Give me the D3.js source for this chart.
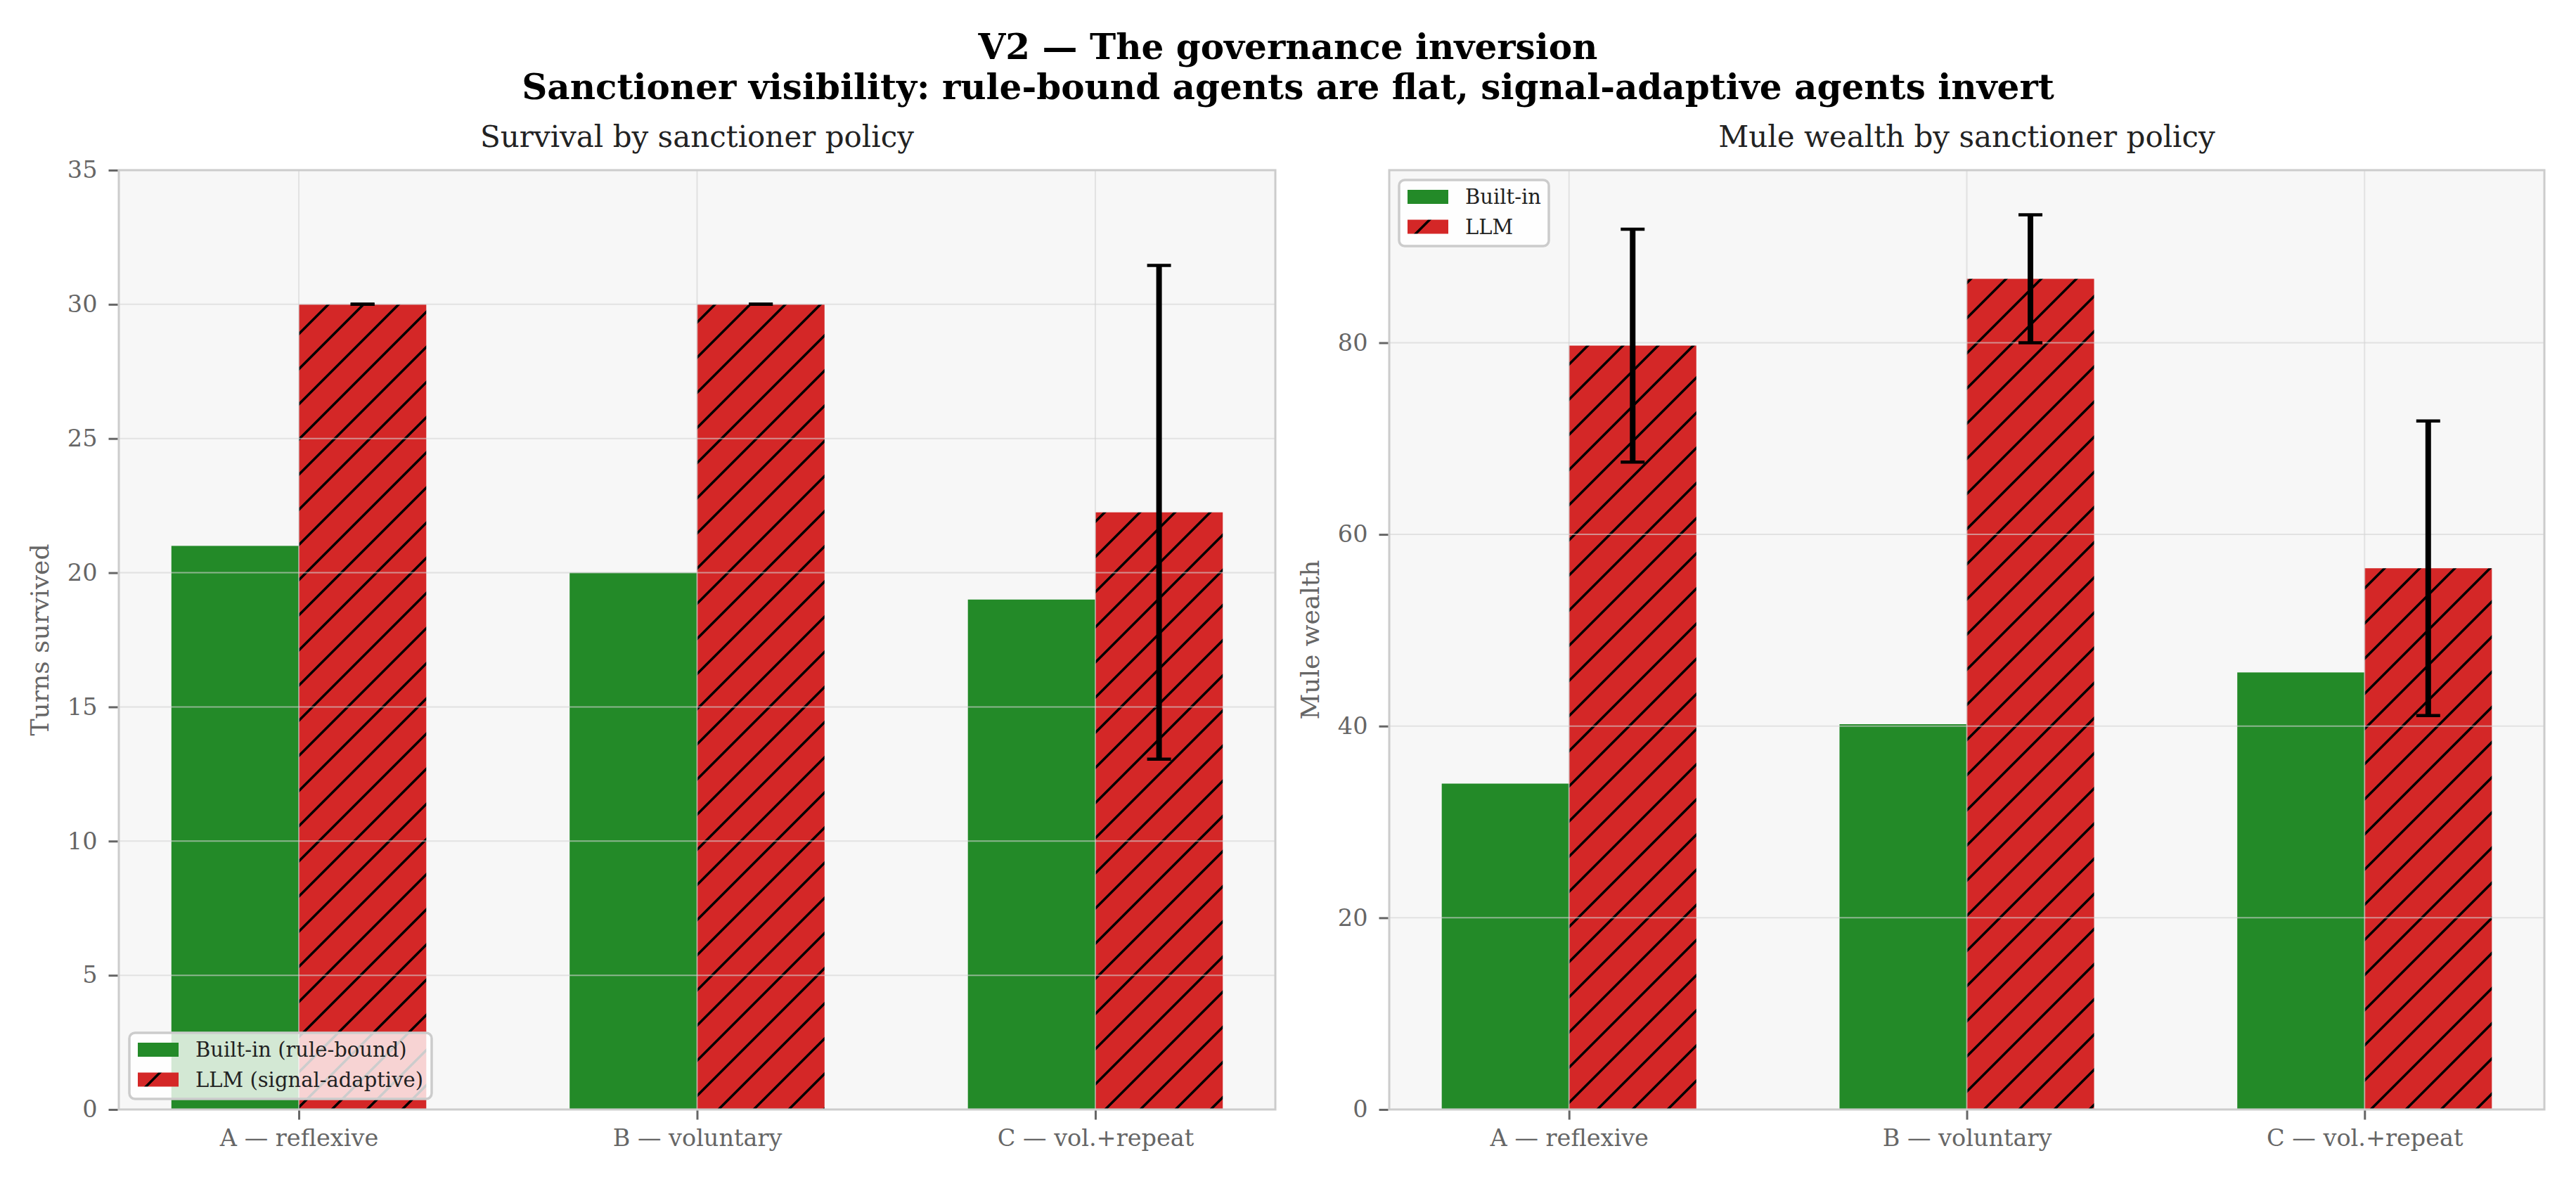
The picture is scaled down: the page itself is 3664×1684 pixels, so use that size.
<!DOCTYPE html>
<html lang="en">
  <head>
    <meta charset="UTF-8">
    <script src="https://cdn.jsdelivr.net/npm/d3@7/dist/d3.min.js"></script>
    <title>V2 — The governance inversion</title>
    <style>
    body { margin: 0; background: #fff; }
    text { font-family: "DejaVu Serif", serif; }
    </style>
  </head>
  <body>
    <div id="chart"></div>
    <script>

// Data
const policies       = ["A — reflexive", "B — voluntary", "C — vol.+repeat"];
const survivalBuilt  = [21.0, 20.0, 19.0];
const survivalLLM    = [30.0, 30.0, 22.25];
const survivalLLMErr = [0.0, 0.0, 9.2];
const wealthBuilt    = [34.0, 40.2, 45.6];
const wealthLLM      = [79.7, 86.67, 56.47];
const wealthLLMErr   = [12.15, 6.67, 15.37];

const width  = 3664;
const height = 1684;

const green = "#238a28";
const red   = "#d42727";
const barW  = 0.32;

const svg = d3
  .select("#chart")
  .append("svg")
  .attr("width",  width)
  .attr("height", height)
  .attr("viewBox", [0, 0, width, height]);

// Hatch pattern for the LLM bars ("//")
const hatchStep = 50;
const defs = svg.append("defs");
const pat = defs.append("pattern")
  .attr("id", "hatch")
  .attr("patternUnits", "userSpaceOnUse")
  .attr("width", hatchStep)
  .attr("height", hatchStep);
pat.append("rect")
  .attr("width", hatchStep)
  .attr("height", hatchStep)
  .attr("fill", red);
pat.append("path")
  .attr("d", `M0,${hatchStep} L${hatchStep},0 M${-hatchStep / 2},${hatchStep / 2} L${hatchStep / 2},${-hatchStep / 2} M${hatchStep / 2},${hatchStep * 1.5} L${hatchStep * 1.5},${hatchStep / 2}`)
  .attr("stroke", "#000")
  .attr("stroke-width", 3.5);

// Suptitle
svg.append("text")
  .attr("x", width / 2)
  .attr("y", 84)
  .attr("text-anchor", "middle")
  .attr("font-weight", "bold")
  .attr("font-size", 50)
  .text("V2 — The governance inversion");
svg.append("text")
  .attr("x", width / 2)
  .attr("y", 141)
  .attr("text-anchor", "middle")
  .attr("font-weight", "bold")
  .attr("font-size", 50)
  .text("Sanctioner visibility: rule-bound agents are flat, signal-adaptive agents invert");

function panel(opts) {
  const { left, right, top, bottom, built, llm, err, yMax, title, ylabel, legend, legendPos } = opts;

  const g = svg.append("g");

  const x = d3.scaleLinear()
    .domain([-0.452, policies.length - 1 + 0.452])
    .range([left, right]);

  const y = d3.scaleLinear()
    .domain([0, yMax])
    .range([bottom, top]);

  const yTicks = opts.yTicks ?? y.ticks(5);

  // background
  g.append("rect")
    .attr("x", left)
    .attr("y", top)
    .attr("width", right - left)
    .attr("height", bottom - top)
    .attr("fill", "#f7f7f7");

  // bars
  g.selectAll(".built")
    .data(built)
    .join("rect")
    .attr("x", (d, i) => x(i - barW))
    .attr("y", d => y(d))
    .attr("width", x(barW) - x(0))
    .attr("height", d => y(0) - y(d))
    .attr("fill", green);

  g.selectAll(".llm")
    .data(llm)
    .join("rect")
    .attr("x", (d, i) => x(i))
    .attr("y", d => y(d))
    .attr("width", x(barW) - x(0))
    .attr("height", d => y(0) - y(d))
    .attr("fill", "url(#hatch)");

  // grid on top of bars
  const grid = g.append("g")
    .attr("stroke", "#d4d4d4")
    .attr("stroke-opacity", 0.6)
    .attr("stroke-width", 2);
  grid.selectAll("line.h")
    .data(yTicks.filter(t => t > 0 && y(t) > top + 1))
    .join("line")
    .attr("x1", left).attr("x2", right)
    .attr("y1", d => y(d)).attr("y2", d => y(d));
  grid.selectAll("line.v")
    .data(policies.map((p, i) => i))
    .join("line")
    .attr("x1", d => x(d)).attr("x2", d => x(d))
    .attr("y1", top).attr("y2", bottom);

  // error bars
  const eb = g.append("g")
    .attr("stroke", "#000")
    .attr("fill", "none");
  const ex = i => x(i + barW / 2);
  eb.selectAll("line.stem")
    .data(llm)
    .join("line")
    .attr("x1", (d, i) => ex(i)).attr("x2", (d, i) => ex(i))
    .attr("y1", (d, i) => y(d - err[i])).attr("y2", (d, i) => y(d + err[i]))
    .attr("stroke-width", 8);
  ["lo", "hi"].forEach(k => {
    eb.selectAll("line.cap" + k)
      .data(llm)
      .join("line")
      .attr("x1", (d, i) => ex(i) - 17).attr("x2", (d, i) => ex(i) + 17)
      .attr("y1", (d, i) => y(k === "lo" ? d - err[i] : d + err[i]))
      .attr("y2", (d, i) => y(k === "lo" ? d - err[i] : d + err[i]))
      .attr("stroke-width", 4.5);
  });

  // spines
  g.append("rect")
    .attr("x", left)
    .attr("y", top)
    .attr("width", right - left)
    .attr("height", bottom - top)
    .attr("fill", "none")
    .attr("stroke", "#cccccc")
    .attr("stroke-width", 3);

  // y axis
  const yAxis = g.append("g")
    .attr("transform", `translate(${left - 1.5},0)`)
    .call(d3.axisLeft(y).tickValues(yTicks).tickSize(13).tickPadding(16).tickFormat(d3.format("d")));
  yAxis.select(".domain").remove();
  yAxis.selectAll(".tick line").attr("stroke", "#666").attr("stroke-width", 3);
  yAxis.selectAll(".tick text")
    .attr("fill", "#666")
    .attr("font-family", "DejaVu Serif")
    .attr("font-size", 33.5);

  // x axis
  const xAxis = g.append("g")
    .attr("transform", `translate(0,${bottom + 1.5})`)
    .call(d3.axisBottom(x).tickValues(policies.map((p, i) => i)).tickSize(13).tickPadding(14).tickFormat(i => policies[i]));
  xAxis.select(".domain").remove();
  xAxis.selectAll(".tick line").attr("stroke", "#666").attr("stroke-width", 3);
  xAxis.selectAll(".tick text")
    .attr("fill", "#666")
    .attr("font-family", "DejaVu Serif")
    .attr("font-size", 33.5);

  // titles
  g.append("text")
    .attr("x", (left + right) / 2)
    .attr("y", 209)
    .attr("text-anchor", "middle")
    .attr("fill", "#222")
    .attr("font-size", 42)
    .text(title);

  g.append("text")
    .attr("transform", `translate(${left - 100},${(top + bottom) / 2}) rotate(-90)`)
    .attr("text-anchor", "middle")
    .attr("fill", "#666")
    .attr("font-size", 36)
    .text(ylabel);

  // legend
  const lg = g.append("g").attr("transform", `translate(${legendPos[0]},${legendPos[1]})`);
  lg.append("rect")
    .attr("width", legendPos[2])
    .attr("height", 94)
    .attr("rx", 8)
    .attr("fill", "#fff")
    .attr("fill-opacity", 0.8)
    .attr("stroke", "#cccccc")
    .attr("stroke-width", 3.5);
  legend.forEach((label, i) => {
    lg.append("rect")
      .attr("x", 12)
      .attr("y", 14 + i * 42.5)
      .attr("width", 58)
      .attr("height", 20)
      .attr("fill", i === 0 ? green : "url(#hatch)");
    lg.append("text")
      .attr("x", 94)
      .attr("y", 34 + i * 42.5)
      .attr("fill", "#222")
      .attr("font-size", 29)
      .text(label);
  });
}

panel({
  left: 169, right: 1814, top: 242, bottom: 1578,
  built: survivalBuilt, llm: survivalLLM, err: survivalLLMErr,
  yMax: 35, yTicks: d3.range(0, 36, 5),
  title: "Survival by sanctioner policy",
  ylabel: "Turns survived",
  legend: ["Built-in (rule-bound)", "LLM (signal-adaptive)"],
  legendPos: [184, 1469, 430]
});

panel({
  left: 1976, right: 3619, top: 242, bottom: 1578,
  built: wealthBuilt, llm: wealthLLM, err: wealthLLMErr,
  yMax: d3.max(wealthLLM, (d, i) => d + wealthLLMErr[i]) * 1.05,
  title: "Mule wealth by sanctioner policy",
  ylabel: "Mule wealth",
  legend: ["Built-in", "LLM"],
  legendPos: [1990, 256, 213]
});

    </script>
  </body>
</html>
